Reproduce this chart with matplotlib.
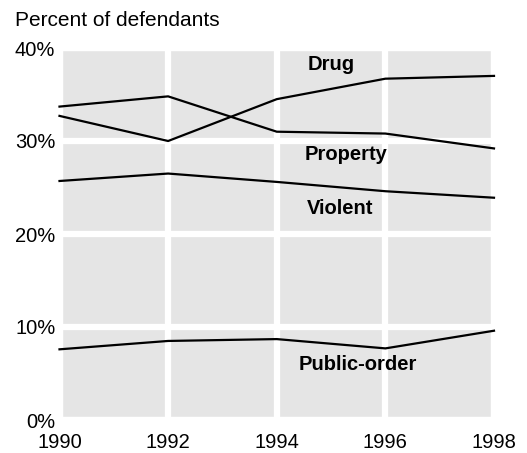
import matplotlib
matplotlib.use('Agg')
import matplotlib.pyplot as plt

plt.rcParams['font.family'] = ['Liberation Sans', 'DejaVu Sans']

# ------------------------
# Data (percent of defendants)
# ------------------------
years = [1990, 1992, 1994, 1996, 1998]
drug = [32.7, 30.0, 34.5, 36.7, 37.0]
property_ = [33.7, 34.8, 31.0, 30.8, 29.2]
violent = [25.7, 26.5, 25.6, 24.6, 23.9]
public_order = [7.6, 8.5, 8.7, 7.7, 9.6]

series_labels = ['Drug', 'Property', 'Violent', 'Public-order']
label_pos = [(1995.0, 38.2), (1995.28, 28.6), (1995.16, 22.7), (1995.5, 6.0)]
y_ticks = [0, 10, 20, 30, 40]

# ------------------------
# Plot
# ------------------------
fig = plt.figure(figsize=(5.27, 4.53), dpi=100)
ax = fig.add_axes([59.5 / 527, 33 / 453, 434.5 / 527, 372 / 453])
ax.set_facecolor('#e5e5e5')

for vals in (drug, property_, violent, public_order):
    ax.plot(years, vals, color='black', linewidth=1.6, clip_on=False, zorder=4)

for text, (x, y) in zip(series_labels, label_pos):
    ax.text(x, y, text, ha='center', va='center', fontsize=14.5, fontweight='bold')

ax.set_xlim(1990, 1998)
ax.set_ylim(0, 40)
ax.set_xticks(years)
ax.set_yticks(y_ticks)
ax.set_yticklabels([f'{v}%' for v in y_ticks])
ax.tick_params(length=0, labelsize=14.5)
ax.tick_params(axis='x', pad=9)
ax.tick_params(axis='y', pad=3)

ax.grid(True, color='white', linewidth=4.5)
ax.set_axisbelow(True)
for s in ax.spines.values():
    s.set_color('white')
    s.set_linewidth(4.5)

fig.text(15 / 527, 1 - 20 / 453, 'Percent of defendants', fontsize=15, va='center', ha='left')

fig.savefig('out.png', dpi=100)
